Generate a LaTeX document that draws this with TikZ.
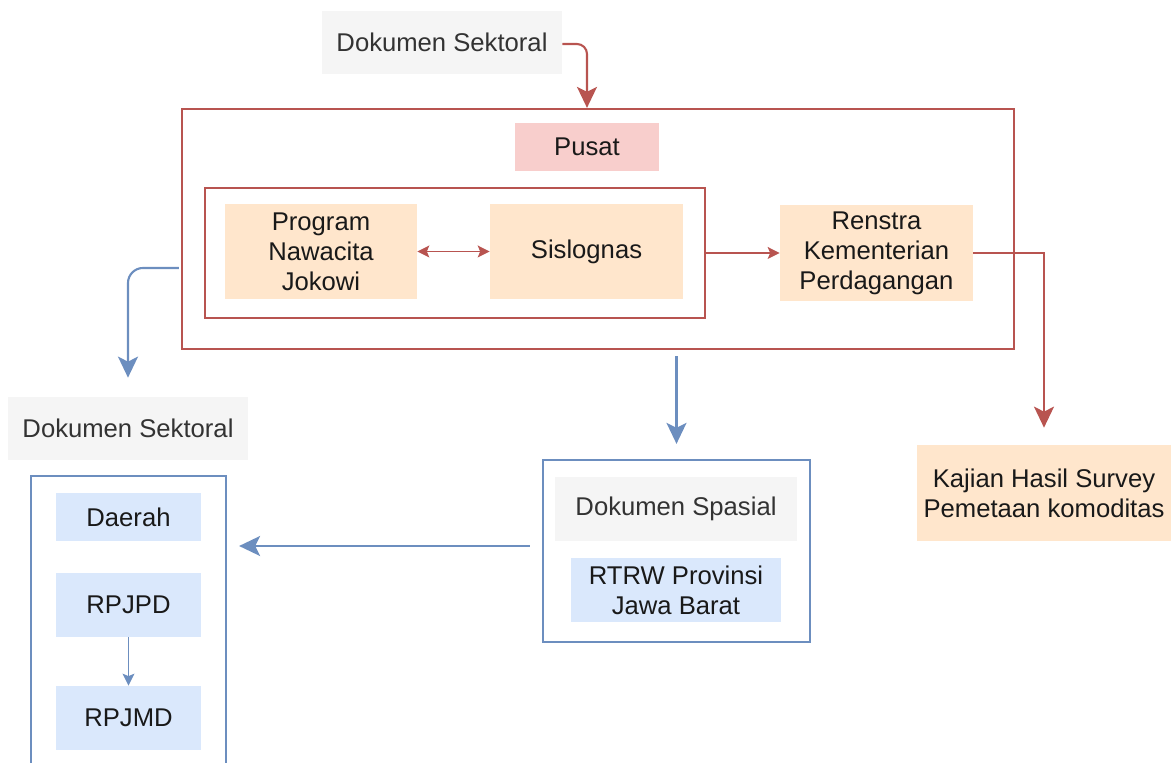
\documentclass[tikz,border=0pt]{standalone}
\usepackage{fontspec}
\setmainfont{Liberation Sans}
\usetikzlibrary{arrows.meta, positioning, calc}
\definecolor{frameRed}{HTML}{B85450}
\definecolor{fillRed}{HTML}{F8CECC}
\definecolor{fillOrange}{HTML}{FFE6CC}
\definecolor{frameBlue}{HTML}{6C8EBF}
\definecolor{fillBlue}{HTML}{DAE8FC}
\definecolor{fillGray}{HTML}{F5F5F5}
\definecolor{textGray}{HTML}{333333}
\tikzset{
    box/.style={rectangle, draw=none, inner sep=0pt, align=center, font=\fontsize{14.6}{17}\selectfont, text=black!90},
    graybox/.style={box, fill=fillGray, text=textGray},
    pinkbox/.style={box, fill=fillRed},
    orangebox/.style={box, fill=fillOrange},
    bluebox/.style={box, fill=fillBlue},
    redframe/.style={rectangle, draw=frameRed, line width=1.3pt, fill=none, inner sep=0pt},
    blueframe/.style={rectangle, draw=frameBlue, line width=1.3pt, fill=none, inner sep=0pt},
    redarrow/.style={-{Stealth[length=0.42cm, width=0.4cm, inset=0.1cm]}, line width=1.2pt, draw=frameRed, color=frameRed},
    bluearrow/.style={-{Stealth[length=0.42cm, width=0.4cm, inset=0.1cm]}, line width=1.2pt, draw=frameBlue, color=frameBlue},
    thinred/.style={-{Stealth[length=0.24cm, width=0.24cm, inset=0.05cm]}, line width=0.6pt, draw=frameRed, color=frameRed},
    thinblue/.style={-{Stealth[length=0.24cm, width=0.24cm, inset=0.05cm]}, line width=0.6pt, draw=frameBlue, color=frameBlue}
}

\begin{document}
\begin{tikzpicture}[x=0.02cm, y=-0.02cm]
    \useasboundingbox (0,0) rectangle (1171,763);
    \clip (0,0) rectangle (1171,763);
    % pusat
    \node[redframe, minimum width=16.64cm, minimum height=4.8cm] (pusatbox) at (598,229) {};
    \node[pinkbox, minimum width=2.88cm, minimum height=0.96cm] (pusat) at (587,147) {Pusat};
    \node[redframe, minimum width=10cm, minimum height=2.6cm] (innerbox) at (455,253) {};
    \node[orangebox, minimum width=3.84cm, minimum height=1.9cm] (nawacita) at (321,251.5) {Program\\Nawacita\\Jokowi};
    \node[orangebox, minimum width=3.86cm, minimum height=1.9cm] (sislognas) at (586.5,251.5) {Sislognas};
    \node[orangebox, minimum width=3.86cm, minimum height=1.92cm] (renstra) at (876.5,253) {Renstra\\Kementerian\\Perdagangan};
    \node[orangebox, minimum width=5.08cm, minimum height=1.92cm] (kajian) at (1044,493) {Kajian Hasil Survey\\Pemetaan komoditas};
    \node[graybox, minimum width=4.8cm, minimum height=1.26cm] (sektoralTop) at (442,42.5) {Dokumen Sektoral};
    % daerah
    \node[graybox, minimum width=4.8cm, minimum height=1.26cm] (sektoralLeft) at (128,428.5) {Dokumen Sektoral};
    \node[blueframe, minimum width=3.9cm, minimum height=6.08cm] (daerahbox) at (128.5,628) {};
    \node[bluebox, minimum width=2.9cm, minimum height=0.96cm] (daerah) at (128.5,517) {Daerah};
    \node[bluebox, minimum width=2.9cm, minimum height=1.28cm] (rpjpd) at (128.5,605) {RPJPD};
    \node[bluebox, minimum width=2.9cm, minimum height=1.28cm] (rpjmd) at (128.5,718) {RPJMD};
    % spasial
    \node[blueframe, minimum width=5.34cm, minimum height=3.64cm] (spasialbox) at (676.5,551) {};
    \node[graybox, minimum width=4.84cm, minimum height=1.28cm] (spasial) at (676,509) {Dokumen Spasial};
    \node[bluebox, minimum width=4.2cm, minimum height=1.28cm] (rtrw) at (676,590) {RTRW Provinsi\\Jawa Barat};

    \draw[redarrow, rounded corners=0.2cm] ([yshift=-0.03cm]sektoralTop.east) -| (pusat.north |- pusatbox.north);
    \draw[thinred, {Stealth[length=0.24cm, width=0.24cm, inset=0.05cm]}-{Stealth[length=0.24cm, width=0.24cm, inset=0.05cm]}] (nawacita) -- (sislognas);
    \draw[thinred] (innerbox.east |- renstra.west) -- (renstra.west);
    \draw[redarrow] (renstra.east) -| ([yshift=0.34cm]kajian.north);
    \draw[bluearrow, rounded corners=0.3cm] ([xshift=-0.04cm, yshift=-0.78cm]pusatbox.west) -| ([yshift=0.38cm]sektoralLeft.north);
    \draw[bluearrow] ([yshift=-0.12cm]pusatbox.south -| spasialbox.north) -- ([yshift=0.3cm]spasialbox.north);
    \draw[bluearrow] ([xshift=-0.24cm, yshift=0.1cm]spasialbox.west) -- ([xshift=0.24cm, yshift=0.1cm]spasialbox.west -| daerahbox.east);
    \draw[thinblue] (rpjpd) -- (rpjmd);
\end{tikzpicture}
\end{document}
